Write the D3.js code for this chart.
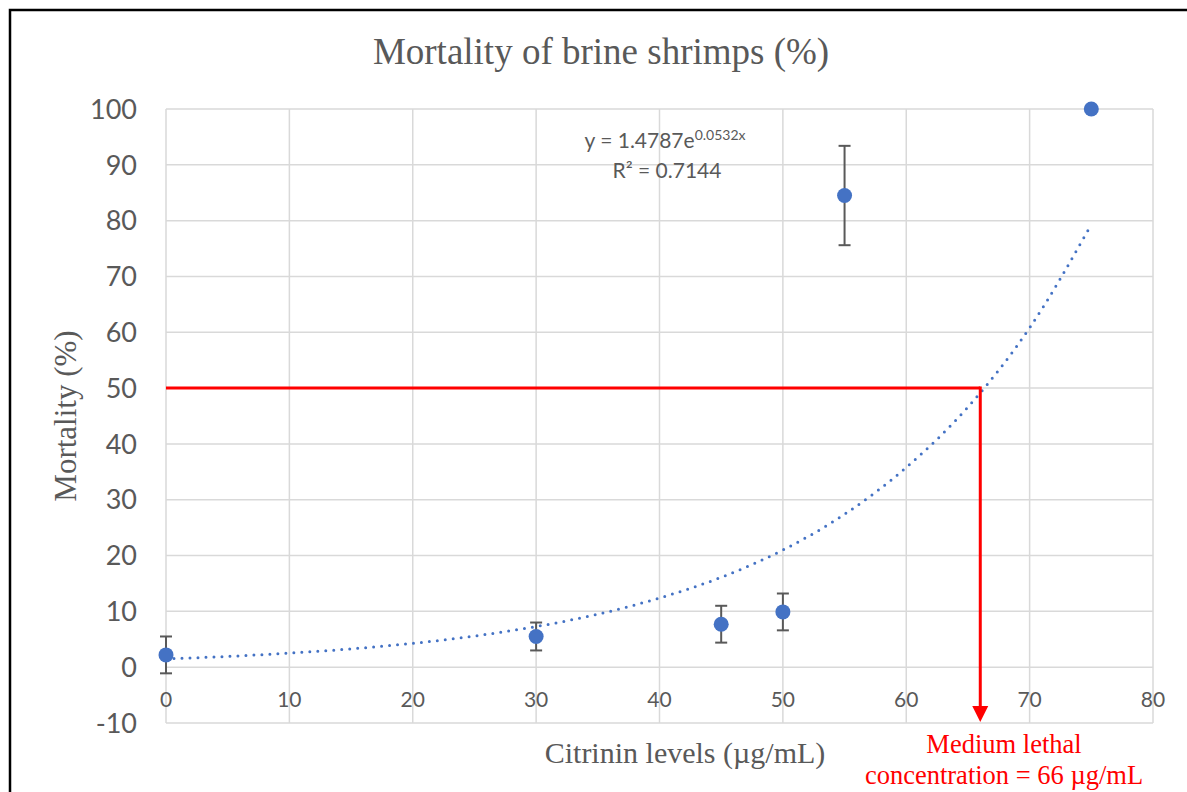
<!DOCTYPE html>
<html lang="en">
<head>
  <meta charset="UTF-8">
  <title>Mortality of brine shrimps</title>
  <script src="https://d3js.org/d3.v7.min.js"></script>
  <style>
    body { margin: 0; background: #fff; }
  </style>
</head>
<body>
<script>
  // data
  const concentration = [0, 30, 45, 50, 55, 75];
  const mortality = [2.2, 5.5, 7.7, 9.9, 84.5, 100];
  const errors = [3.3, 2.5, 3.3, 3.3, 8.9, 0];

  // exponential trendline, sampled off the dotted curve
  const trendX = [0, 5, 10, 15, 20, 25, 30, 35, 40, 45, 50, 55, 60, 65, 70, 75];
  const trendY = [1.48, 1.93, 2.52, 3.28, 4.28, 5.58, 7.28, 9.49, 12.4, 16.1, 21.0, 27.4, 35.8, 46.6, 60.8, 79.3];

  const xTicks = [0, 10, 20, 30, 40, 50, 60, 70, 80];
  const yTicks = [-10, 0, 10, 20, 30, 40, 50, 60, 70, 80, 90, 100];

  const lc50 = 66;
  const halfMortality = 50;

  const width = 1187, height = 792;
  const plot = { left: 166, right: 1153, top: 109, bottom: 723 };

  const svg = d3.select("body").append("svg")
    .attr("width", width)
    .attr("height", height);

  const x = d3.scaleLinear().domain([0, 80]).range([plot.left, plot.right]);
  const y = d3.scaleLinear().domain([-10, 100]).range([plot.bottom, plot.top]);

  // frame (top + left edges visible)
  svg.append("path")
    .attr("d", "M10,800 L10,10 L1190,10")
    .attr("fill", "none")
    .attr("stroke", "#000")
    .attr("stroke-width", 2.5);

  // gridlines
  svg.append("g")
    .selectAll("line")
    .data(yTicks)
    .enter().append("line")
    .attr("x1", plot.left).attr("x2", plot.right)
    .attr("y1", d => y(d)).attr("y2", d => y(d))
    .attr("stroke", "#d9d9d9")
    .attr("stroke-width", 1.5);

  svg.append("g")
    .selectAll("line")
    .data(xTicks)
    .enter().append("line")
    .attr("x1", d => x(d)).attr("x2", d => x(d))
    .attr("y1", plot.top).attr("y2", plot.bottom)
    .attr("stroke", "#d9d9d9")
    .attr("stroke-width", 1.5);

  // y tick labels
  svg.append("g")
    .selectAll("text")
    .data(yTicks)
    .enter().append("text")
    .attr("x", 137)
    .attr("y", d => y(d))
    .attr("dy", "0.36em")
    .attr("text-anchor", "end")
    .style("font-family", "Lato, 'Open Sans', sans-serif")
    .style("font-size", "27px")
    .attr("fill", "#595959")
    .text(d => d);

  // x tick labels (axis crosses at 0)
  svg.append("g")
    .selectAll("text")
    .data(xTicks)
    .enter().append("text")
    .attr("x", d => x(d))
    .attr("y", y(0) + 40)
    .attr("text-anchor", "middle")
    .style("font-family", "Lato, 'Open Sans', sans-serif")
    .style("font-size", "21px")
    .attr("fill", "#595959")
    .text(d => d);

  // title and axis titles
  svg.append("text")
    .attr("x", 601)
    .attr("y", 64)
    .attr("text-anchor", "middle")
    .style("font-family", "'Liberation Serif', 'Times New Roman', serif")
    .style("font-size", "37px")
    .attr("fill", "#595959")
    .text("Mortality of brine shrimps (%)");

  svg.append("text")
    .attr("x", 685)
    .attr("y", 763)
    .attr("text-anchor", "middle")
    .style("font-family", "'Liberation Serif', 'Times New Roman', serif")
    .style("font-size", "30px")
    .attr("fill", "#595959")
    .text("Citrinin levels (\u00b5g/mL)");

  svg.append("text")
    .attr("transform", "translate(76,416) rotate(-90)")
    .attr("text-anchor", "middle")
    .style("font-family", "'Liberation Serif', 'Times New Roman', serif")
    .style("font-size", "31px")
    .attr("fill", "#595959")
    .text("Mortality (%)");

  // trendline
  const trendLine = d3.line()
    .x((d, i) => x(trendX[i]))
    .y(d => y(d))
    .curve(d3.curveMonotoneX);

  svg.append("path")
    .datum(trendY)
    .attr("d", trendLine)
    .attr("fill", "none")
    .attr("stroke", "#4472c4")
    .attr("stroke-width", 3)
    .attr("stroke-linecap", "round")
    .attr("stroke-dasharray", "0,8");

  // LC50 red guide lines + arrow
  svg.append("line")
    .attr("x1", x(0)).attr("x2", x(lc50))
    .attr("y1", y(halfMortality)).attr("y2", y(halfMortality))
    .attr("stroke", "#ff0000")
    .attr("stroke-width", 3);

  const tipY = y(-9.8);
  svg.append("line")
    .attr("x1", x(lc50)).attr("x2", x(lc50))
    .attr("y1", y(halfMortality) - 1.5).attr("y2", tipY - 14)
    .attr("stroke", "#ff0000")
    .attr("stroke-width", 3);

  svg.append("path")
    .attr("d", `M${x(lc50) - 8},${tipY - 16} L${x(lc50) + 8},${tipY - 16} L${x(lc50)},${tipY} Z`)
    .attr("fill", "#ff0000");

  // error bars
  const points = concentration.map((c, i) => ({ c: c, m: mortality[i], e: errors[i] }));
  const eb = svg.append("g")
    .selectAll("g")
    .data(points.filter(d => d.e > 0))
    .enter().append("g")
    .attr("stroke", "#595959")
    .attr("stroke-width", 2);

  eb.append("line")
    .attr("x1", d => x(d.c)).attr("x2", d => x(d.c))
    .attr("y1", d => y(d.m + d.e)).attr("y2", d => y(d.m - d.e));
  eb.append("line")
    .attr("x1", d => x(d.c) - 6).attr("x2", d => x(d.c) + 6)
    .attr("y1", d => y(d.m + d.e)).attr("y2", d => y(d.m + d.e));
  eb.append("line")
    .attr("x1", d => x(d.c) - 6).attr("x2", d => x(d.c) + 6)
    .attr("y1", d => y(d.m - d.e)).attr("y2", d => y(d.m - d.e));

  // markers
  svg.append("g")
    .selectAll("circle")
    .data(points)
    .enter().append("circle")
    .attr("cx", d => x(d.c))
    .attr("cy", d => y(d.m))
    .attr("r", 7.5)
    .attr("fill", "#4472c4");

  // trendline equation
  const eq = svg.append("text")
    .attr("x", 665)
    .attr("y", 148)
    .attr("text-anchor", "middle")
    .style("font-family", "Lato, 'Open Sans', sans-serif")
    .style("font-size", "21px")
    .attr("fill", "#595959");
  eq.append("tspan").text("y = 1.4787e");
  eq.append("tspan").attr("dy", -8).style("font-size", "14px").text("0.0532x");

  svg.append("text")
    .attr("x", 667)
    .attr("y", 178)
    .attr("text-anchor", "middle")
    .style("font-family", "Lato, 'Open Sans', sans-serif")
    .style("font-size", "21px")
    .attr("fill", "#595959")
    .text("R\u00b2 = 0.7144");

  // annotation
  const note = svg.append("text")
    .attr("text-anchor", "middle")
    .style("font-family", "'Liberation Serif', 'Times New Roman', serif")
    .style("font-size", "26.5px")
    .attr("fill", "#ff0000");
  note.append("tspan").attr("x", 1004).attr("y", 753).text("Medium lethal");
  note.append("tspan").attr("x", 1004).attr("y", 784).text("concentration = 66 \u00b5g/mL");
</script>
</body>
</html>
